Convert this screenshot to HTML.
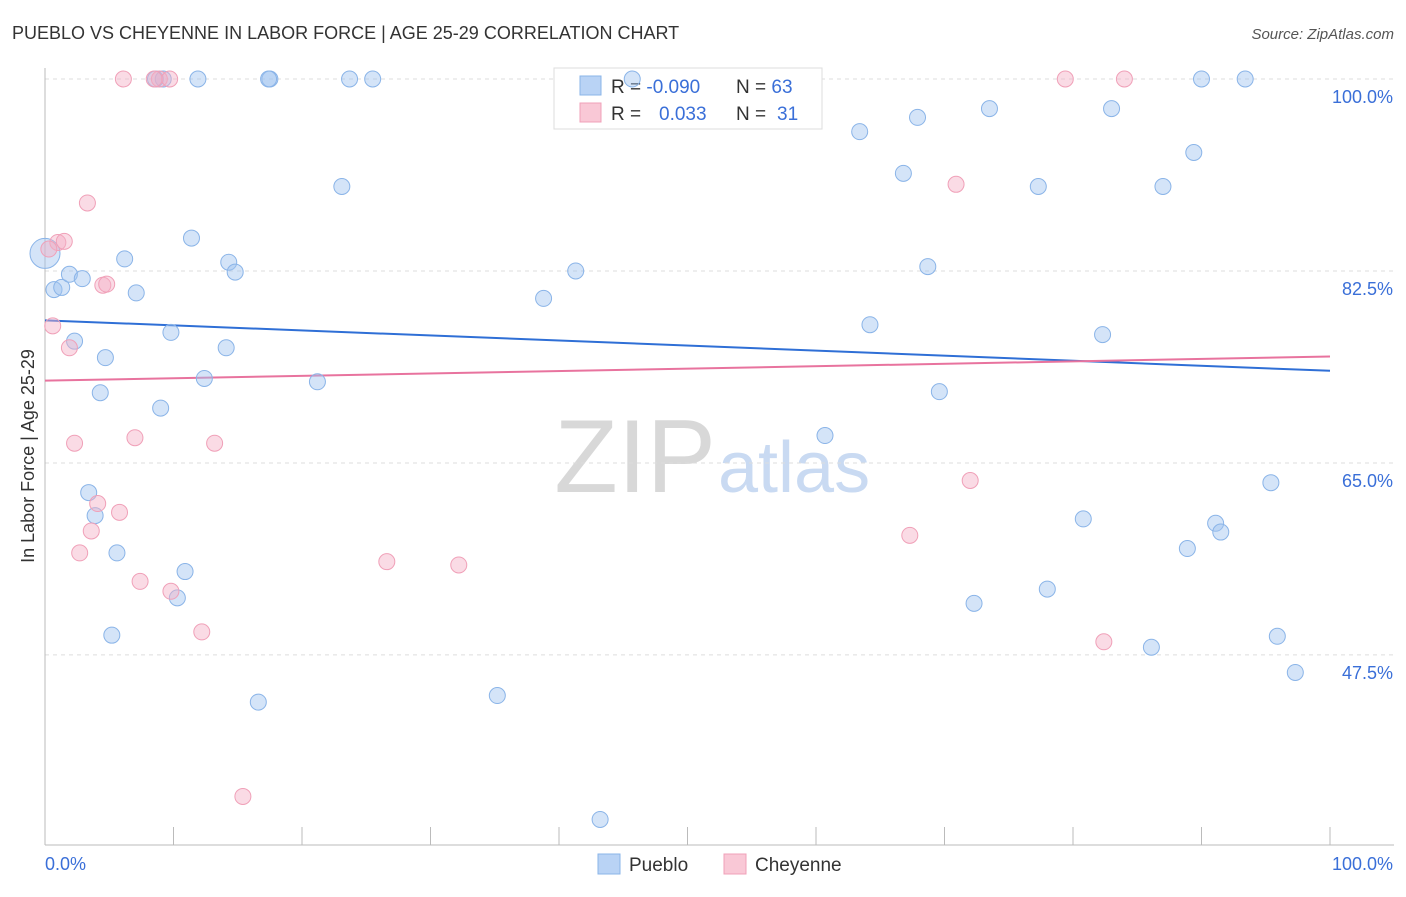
<!DOCTYPE html>
<html><head><meta charset="utf-8"><style>
body{margin:0;background:#fff;font-family:"Liberation Sans",sans-serif;}
svg text{font-family:"Liberation Sans",sans-serif;}
</style></head><body>
<svg id="chart" width="1406" height="892">
<text x="12" y="39" font-size="18" fill="#333">PUEBLO VS CHEYENNE IN LABOR FORCE | AGE 25-29 CORRELATION CHART</text>
<text x="1394" y="39" font-size="15" fill="#555" font-style="italic" text-anchor="end">Source: ZipAtlas.com</text>
<text x="716" y="492" font-size="104" fill="#d8d8d8" text-anchor="end" font-family="Liberation Serif">ZIP</text>
<text x="718" y="492" font-size="72" fill="#c9daf2">atlas</text>
<text transform="translate(34,456) rotate(-90)" font-size="18" fill="#333" text-anchor="middle">In Labor Force | Age 25-29</text>
<g id="grid"></g><g id="axes"></g><g id="lines"></g>
<g>
<rect x="554" y="68" width="268" height="61" fill="#fff" stroke="#ddd"/>
<rect x="580" y="76" width="21" height="19" fill="#b9d3f5" stroke="#8ab4e8"/>
<rect x="580" y="103" width="21" height="19" fill="#f9c8d6" stroke="#f0a0b8"/>
<text x="611" y="93" font-size="19" fill="#333">R = <tspan fill="#3a6fd8">-0.090</tspan></text>
<text x="736" y="93" font-size="19" fill="#333">N = <tspan fill="#3a6fd8">63</tspan></text>
<text x="611" y="120" font-size="19" fill="#333">R = <tspan fill="#3a6fd8" x="659">0.033</tspan></text>
<text x="736" y="120" font-size="19" fill="#333">N = <tspan fill="#3a6fd8" x="777">31</tspan></text>
</g>
<g id="pts"></g>
<g>
<rect x="598" y="854" width="22" height="20" fill="#b9d3f5" stroke="#8ab4e8"/>
<text x="629" y="871" font-size="19" fill="#333">Pueblo</text>
<rect x="724" y="854" width="22" height="20" fill="#f9c8d6" stroke="#f0a0b8"/>
<text x="755" y="871" font-size="19" fill="#333">Cheyenne</text>
</g>
</svg>
<script>
const puebloX=[8.6,11.9,17.5,17.4,23.7,25.5,45.7,90.0,93.4,9.2,0,0.7,1.3,1.9,2.9,6.2,7.1,11.4,14.3,14.8,23.1,41.3,38.8,63.4,67.9,73.5,83.0,66.8,77.3,87.0,89.4,68.7,64.2,82.3,2.3,4.7,9.8,14.1,12.4,21.2,4.3,9.0,69.6,60.7,3.4,3.9,5.6,10.9,10.3,5.2,16.6,35.2,43.2,72.3,78.0,80.8,88.9,91.1,91.5,95.4,86.1,95.9,97.3];
const puebloY=[100,100,100,100,100,100,100,100,100,100,84.1,80.8,81.0,82.2,81.8,83.6,80.5,85.5,83.3,82.4,90.2,82.5,80.0,95.2,96.5,97.3,97.3,91.4,90.2,90.2,93.3,82.9,77.6,76.7,76.1,74.6,76.9,75.5,72.7,72.4,71.4,70.0,71.5,67.5,62.3,60.2,56.8,55.1,52.7,49.3,43.2,43.8,32.5,52.2,53.5,59.9,57.2,59.5,58.7,63.2,48.2,49.2,45.9];
const cheyX=[6.1,8.9,9.7,79.4,84.0,3.3,1.0,1.5,4.5,4.8,0.6,1.9,2.3,7.0,13.2,4.1,5.8,3.6,2.7,7.4,9.8,26.6,32.2,12.2,15.4,70.9,72.0,67.3,82.4,0.3,8.5];
const cheyY=[100,100,100,100,100,88.7,85.1,85.2,81.2,81.3,77.5,75.5,66.8,67.3,66.8,61.3,60.5,58.8,56.8,54.2,53.3,56.0,55.7,49.6,34.6,90.4,63.4,58.4,48.7,84.5,100];
const puebloTrend=[78.0,73.4];
const cheyTrend=[72.5,74.7];
const yTicks=[100,82.5,65,47.5];
const yTickLabels=["100.0%","82.5%","65.0%","47.5%"];
const X0=45,X1=1330,Y100=79,PX=10.97;
const sx=v=>X0+v/100*(X1-X0);
const sy=v=>Y100+(100-v)*PX;
const NS="http://www.w3.org/2000/svg";
function mk(p,t,a){const e=document.createElementNS(NS,t);for(const k in a)e.setAttribute(k,a[k]);p.appendChild(e);return e;}
const grid=document.getElementById('grid'),axes=document.getElementById('axes'),lines=document.getElementById('lines'),pts=document.getElementById('pts');
yTicks.forEach((t,i)=>{
 const l=mk(grid,'line',{x1:X0,x2:1394,y1:sy(t),y2:sy(t),stroke:'#ddd','stroke-dasharray':'4,4'});
 
 
 const tx=mk(grid,'text',{x:1393,y:sy(t)+24,'font-size':18,fill:'#3a6fd8','text-anchor':'end'});
 tx.textContent=yTickLabels[i];
 
 
});
const ax=mk(axes,'line',{x1:X0,x2:1394,y1:845,y2:845,stroke:'#bbb'});


const ay=mk(axes,'line',{x1:X0,x2:X0,y1:68,y2:845,stroke:'#bbb'});


for(let i=0;i<=10;i++){const t=mk(axes,'line',{x1:sx(i*10),x2:sx(i*10),y1:827,y2:845,stroke:'#bbb'});
 
 }
const xl=mk(axes,'text',{x:45,y:870,'font-size':18,fill:'#3a6fd8'});xl.textContent='0.0%';


const xr=mk(axes,'text',{x:1393,y:870,'font-size':18,fill:'#3a6fd8','text-anchor':'end'});xr.textContent='100.0%';


function dots(X,Y,fill,stroke,name){X.forEach((x,i)=>{const r=(x===0)?15:8;
 const c=mk(pts,'circle',{cx:sx(x),cy:sy(Y[i]),r:r,fill:fill,stroke:stroke,'stroke-width':1});
 
 });}
dots(puebloX,puebloY,'rgba(160,196,240,0.45)','#8ab4e8','pueblo-point');
dots(cheyX,cheyY,'rgba(245,175,198,0.45)','#f0a0b8','cheyenne-point');
const lb=mk(lines,'line',{x1:sx(0),x2:sx(100),y1:sy(puebloTrend[0]),y2:sy(puebloTrend[1]),stroke:'#2f6fd6','stroke-width':2});


const lp=mk(lines,'line',{x1:sx(0),x2:sx(100),y1:sy(cheyTrend[0]),y2:sy(cheyTrend[1]),stroke:'#e8739e','stroke-width':2});


</script>
</body></html>
